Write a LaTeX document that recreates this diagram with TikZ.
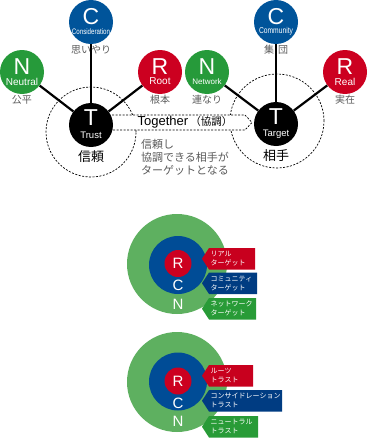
\documentclass[tikz,border=0pt]{standalone}
\usepackage{fontspec}
\setmainfont{Liberation Sans}
\newfontfamily\jpfont{Noto Sans CJK JP}
\usetikzlibrary{backgrounds, calc, positioning}
\definecolor{rcngreen}{RGB}{38,154,58}
\definecolor{rcnblue}{RGB}{0,84,154}
\definecolor{rcnred}{RGB}{204,0,32}
\definecolor{ringgreen}{RGB}{94,176,96}
\definecolor{ringblue}{RGB}{0,76,150}
\definecolor{tagblue}{RGB}{0,60,130}
\definecolor{tagred}{RGB}{200,0,30}
\definecolor{taggreen}{RGB}{40,155,55}
\definecolor{labelgray}{RGB}{90,90,90}

\begin{document}
\begin{tikzpicture}[x=1pt, y=-1pt,
    bigdot/.style={circle, minimum size=44pt, inner sep=0pt},
    ltr/.style={text=white, inner sep=0pt, font=\fontsize{23}{23}\selectfont},
    wrd/.style={text=white, inner sep=0pt},
    sub/.style={text=labelgray, inner sep=1pt, font=\jpfont\fontsize{10}{10}\selectfont},
    spoke/.style={line width=2.2pt},
    zone/.style={dash pattern=on 2pt off 1.5pt, line width=0.7pt},
    ringltr/.style={text=white, inner sep=0pt, font=\fontsize{15}{15}\selectfont},
    tagtxt/.style={text=white, inner sep=0pt, align=left, anchor=west, font=\jpfont\fontsize{7}{9}\selectfont}]
\useasboundingbox (0,0) rectangle (367,439);
% Hubs
\node[bigdot, fill=black] (trust) at (91,125) {};
\node[bigdot, fill=black] (target) at (276,124) {};
\node[ltr, yshift=7pt] at (trust) {T};
\node[ltr, yshift=7pt] at (target) {T};
\node[wrd, yshift=-10pt, font=\fontsize{9.5}{9.5}\selectfont] at (trust) {Trust};
\node[wrd, yshift=-10pt, font=\fontsize{9.5}{9.5}\selectfont] at (target) {Target};
\node[below=0pt of trust, font=\jpfont\fontsize{13}{13}\selectfont] (trustjp) {信頼};
\node[below=0pt of target, font=\jpfont\fontsize{13}{13}\selectfont] (targetjp) {相手};
% Outer circles
\foreach \nm/\x/\y/\clr/\lt/\word/\fsz/\sx/\jp in {
    consid/91/22/rcnblue/C/Consideration/8/0.77/思いやり,
    neutral/22/72/rcngreen/N/Neutral/10/1/公平,
    root/160/72/rcnred/R/Root/10/1/根本,
    commun/276/22/rcnblue/C/Community/8.5/0.79/{集\hspace{4pt}団},
    network/207/72/rcngreen/N/Network/8/1/連なり,
    real/345/72/rcnred/R/Real/10/1/実在} {
    \node[bigdot, fill=\clr] (\nm) at (\x,\y) {};
    \node[ltr, yshift=5pt] at (\nm) {\lt};
    \node[wrd, yshift=-9.5pt, font=\fontsize{\fsz}{\fsz}\selectfont] at (\nm) {\scalebox{\sx}[1]{\word}};
    \node[sub, below=0pt of \nm] {\jp};
}
\begin{scope}[on background layer]
    \draw[zone] (91,132) circle (45pt);
    \draw[zone] (277,121) circle (47pt);
    \draw[zone, fill=white] (105,115) -- (245,115) -- (252,122.5) -- (245,130) -- (105,130);
    \foreach \a/\b in {neutral/trust, consid/trust, root/trust, network/target, commun/target, real/target}
        \draw[spoke] (\a) -- (\b);
\end{scope}
\node (together) at (185,122.5) {\fontsize{13}{13}\selectfont Together\,{\jpfont\fontsize{10.5}{10.5}\selectfont （協調）}};
\node[anchor=north west, text=labelgray, align=left, inner sep=0pt, font=\jpfont\fontsize{11}{13}\selectfont] (note) at (141,139) {信頼し\\協調できる相手が\\ターゲットとなる};
% Target rings
\fill[ringgreen] (177,264) circle (50pt);
\fill[ringblue] (178,265) circle (29pt);
\fill[rcnred] (178,263.5) circle (13.5pt);
\node[ringltr] (tr) at (178,263.5) {R};
\node[ringltr] (tc) at (178,285) {C};
\node[ringltr] (tn) at (178,304) {N};
% Trust rings
\fill[ringgreen] (177,382) circle (50pt);
\fill[ringblue] (178,381.5) circle (29pt);
\fill[rcnred] (178,381) circle (13.5pt);
\node[ringltr] (sr) at (178,381) {R};
\node[ringltr] (sc) at (178,403) {C};
\node[ringltr] (sn) at (178,421) {N};
% Tags
\foreach \ty/\xr/\clr/\txt in {
    248/255/tagred/{リアル\\ターゲット},
    272.5/257/tagblue/{コミュニティ\\ターゲット},
    298/256/taggreen/{ネットワーク\\ターゲット},
    365/253/tagred/{ルーツ\\トラスト},
    390/282/tagblue/{コンサイドレーション\\トラスト},
    416/258/taggreen/{ニュートラル\\トラスト}} {
    \fill[\clr] (202,\ty+10.75) -- (209,\ty) -- (\xr,\ty) -- (\xr,\ty+21.5) -- (209,\ty+21.5) -- cycle;
    \node[tagtxt] at (210.5,\ty+10.75) {\txt};
}
\end{tikzpicture}
\end{document}
